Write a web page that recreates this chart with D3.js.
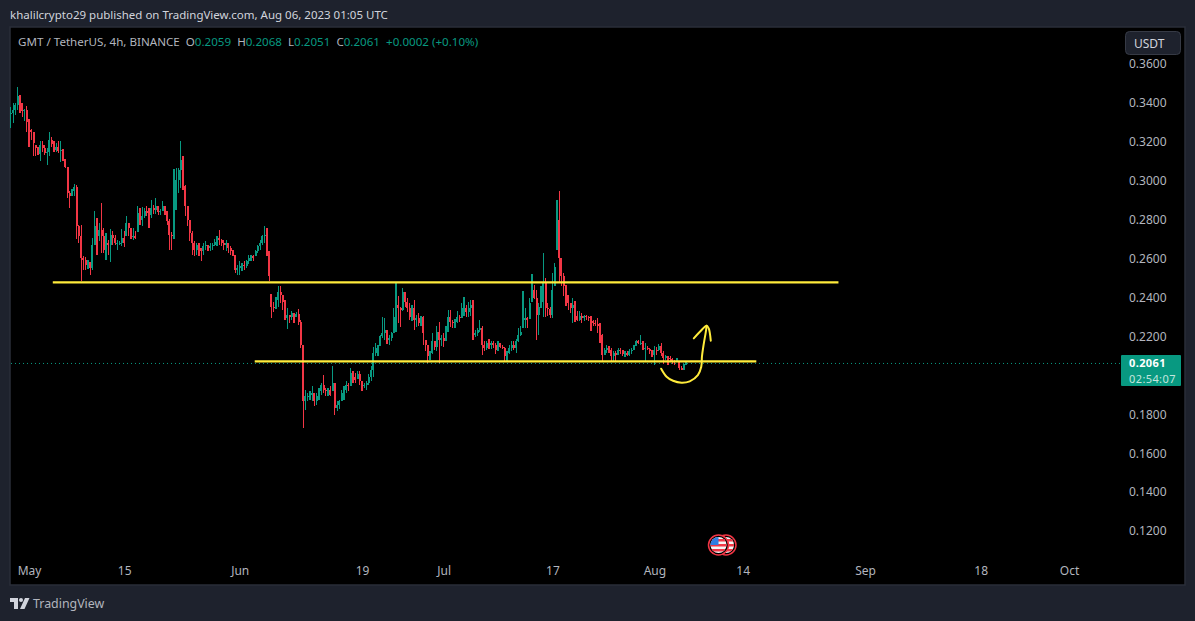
<!DOCTYPE html>
<html><head><meta charset="utf-8">
<style>html,body{margin:0;padding:0;background:#1e222d;overflow:hidden}text{font-family:"Noto Sans",sans-serif}</style>
<script src="https://cdn.jsdelivr.net/npm/d3@7/dist/d3.min.js"></script>
</head><body><svg id="c" width="1195" height="621"></svg>
<script>
const highs=[.3378,.3398,.3402,.3484,.3441,.3398,.3368,.3385,.3316,.3265,.3253,.3185,.3176,.3202,.3202,.3185,.3167,.3253,.3224,.3202,.3193,.3202,.3205,.3162,.3111,.3070,.2945,.2957,.2984,.2979,
.2774,.2774,.2612,.2608,.2595,.2581,.2706,.2843,.2808,.2783,.2885,.2757,.2731,.2697,.2754,.2740,.2723,.2697,.2689,.2754,.2740,.2820,.2783,.2757,.2757,.2740,.2872,.2860,.2865,.2860,
.2868,.2860,.2899,.2877,.2911,.2872,.2855,.2894,.2872,.2843,.2803,.2735,.3060,.3065,.3065,.3202,.3125,.2979,.2868,.2800,.2740,.2689,.2680,.2680,.2654,.2680,.2689,.2672,.2680,.2680,
.2701,.2714,.2749,.2701,.2697,.2697,.2680,.2663,.2646,.2620,.2569,.2586,.2577,.2586,.2595,.2620,.2620,.2620,.2646,.2672,.2697,.2723,.2766,.2757,.2637,
.2418,.2379,.2401,.2459,.2459,.2413,.2388,.2345,.2311,.2333,.2319,.2323,.2340,.2285,.2157,.1926,.1909,.1917,.1946,.1909,.1909,.1934,.1960,.2003,.1934,.1934,.1943,.2046,.1960,.1869,
.1875,.1926,.1943,.1969,.1960,.2037,.2020,.2011,.2020,.2020,.1969,.1960,.1969,.2008,.2046,.2148,.2165,.2157,.2208,.2302,.2294,.2234,.2208,.2225,.2345,.2473,.2408,.2350,.2451,.2430,
.2396,.2370,.2362,.2388,.2311,.2319,.2306,.2306,.2182,.2157,.2123,.2217,.2179,.2254,.2276,.2208,.2217,.2251,.2336,.2336,.2285,.2288,.2333,.2311,.2370,.2401,.2362,.2379,.2388,.2388,
.2234,.2242,.2285,.2251,.2174,.2174,.2186,.2179,.2174,.2165,.2179,.2165,.2157,.2148,.2123,.2157,.2179,.2174,.2186,.2242,.2251,.2434,.2348,.2302,.2396,.2519,.2465,.2439,.2370,.2459,
.2627,.2499,.2370,.2350,.2524,.2577,.2901,.2948,.2602,.2525,.2465,.2414,.2371,.2397,.2380,.2329,.2329,.2320,.2311,.2311,.2303,.2303,.2286,.2286,.2294,.2269,.2214,.2140,.2158,.2149,
.2140,.2123,.2123,.2140,.2140,.2128,.2123,.2123,.2135,.2140,.2158,.2183,.2183,.2209,.2175,.2166,.2149,.2140,.2132,.2149,.2144,.2163,.2166,.2123,.2106,.2098,.2098,.2089,.2081,.2089,
.2072,.2050,.2059,.2068];
const lows=[.3270,.3296,.3338,.3364,.3350,.3326,.3309,.3253,.3176,.3210,.3125,.3128,.3133,.3102,.3150,.3133,.3082,.3128,.3176,.3150,.3150,.3145,.3094,.3104,.3068,.2911,.2860,.2920,.2920,.2701,
.2680,.2483,.2540,.2543,.2547,.2518,.2543,.2672,.2620,.2689,.2629,.2629,.2591,.2620,.2581,.2672,.2672,.2646,.2668,.2663,.2658,.2714,.2714,.2701,.2697,.2701,.2735,.2774,.2766,.2808,
.2817,.2757,.2808,.2831,.2831,.2825,.2825,.2843,.2825,.2774,.2642,.2642,.2701,.2851,.2937,.2962,.2950,.2817,.2766,.2689,.2620,.2612,.2620,.2612,.2586,.2620,.2646,.2637,.2637,.2642,
.2663,.2663,.2672,.2663,.2646,.2637,.2629,.2620,.2612,.2526,.2518,.2518,.2535,.2543,.2552,.2574,.2586,.2586,.2612,.2629,.2646,.2672,.2680,.2612,.2483,
.2294,.2328,.2340,.2353,.2374,.2336,.2285,.2237,.2268,.2285,.2268,.2299,.2259,.2140,.1729,.1823,.1866,.1871,.1866,.1844,.1849,.1875,.1900,.1909,.1895,.1892,.1892,.1917,.1798,.1815,
.1827,.1866,.1875,.1909,.1922,.1943,.1960,.1960,.1981,.1952,.1922,.1934,.1926,.1952,.1969,.1994,.2100,.2097,.2152,.2191,.2182,.2162,.2157,.2179,.2217,.2225,.2268,.2247,.2333,.2350,
.2328,.2282,.2280,.2234,.2247,.2251,.2254,.2157,.2123,.2063,.2080,.2111,.2128,.2123,.2063,.2152,.2148,.2174,.2225,.2247,.2242,.2242,.2271,.2276,.2294,.2306,.2299,.2302,.2306,.2182,
.2196,.2203,.2225,.2105,.2123,.2131,.2135,.2135,.2140,.2109,.2123,.2140,.2135,.2066,.2076,.2111,.2123,.2131,.2114,.2169,.2203,.2242,.2242,.2242,.2288,.2379,.2391,.2182,.2208,.2345,
.2302,.2302,.2306,.2294,.2294,.2457,.2645,.2474,.2457,.2406,.2354,.2337,.2320,.2269,.2272,.2277,.2277,.2269,.2277,.2286,.2277,.2226,.2252,.2252,.2217,.2166,.2067,.2106,.2115,.2115,
.2072,.2072,.2072,.2103,.2111,.2098,.2094,.2098,.2101,.2111,.2128,.2149,.2163,.2154,.2132,.2072,.2128,.2111,.2094,.2055,.2106,.2123,.2098,.2060,.2077,.2055,.2069,.2060,.2055,.2067,
.2026,.2026,.2026,.2051];
const closes=[.3347,.3364,.3390,.3433,.3398,.3356,.3364,.3304,.3262,.3248,.3193,.3167,.3138,.3185,.3167,.3145,.3150,.3210,.3190,.3159,.3176,.3155,.3159,.3111,.3070,.2937,.2920,.2945,.2967,.2766,
.2714,.2603,.2595,.2569,.2586,.2552,.2672,.2766,.2714,.2749,.2714,.2646,.2680,.2672,.2723,.2706,.2680,.2680,.2680,.2706,.2680,.2783,.2757,.2714,.2714,.2706,.2834,.2800,.2817,.2843,
.2834,.2825,.2860,.2851,.2868,.2837,.2843,.2872,.2843,.2791,.2723,.2714,.2851,.3005,.3056,.3108,.2971,.2868,.2800,.2731,.2680,.2646,.2672,.2663,.2637,.2663,.2672,.2654,.2663,.2672,
.2683,.2706,.2697,.2680,.2672,.2680,.2654,.2637,.2620,.2543,.2552,.2560,.2569,.2564,.2586,.2603,.2612,.2603,.2637,.2663,.2680,.2714,.2723,.2637,.2509,
.2353,.2345,.2388,.2430,.2413,.2379,.2294,.2311,.2302,.2319,.2302,.2316,.2276,.2157,.1866,.1892,.1892,.1900,.1909,.1866,.1892,.1917,.1952,.1926,.1917,.1926,.1900,.1960,.1832,.1849,
.1866,.1909,.1926,.1952,.1943,.2011,.1994,.1977,.2008,.1969,.1952,.1952,.1960,.1994,.2029,.2114,.2140,.2148,.2200,.2217,.2234,.2182,.2191,.2217,.2302,.2362,.2345,.2336,.2430,.2379,
.2345,.2302,.2345,.2285,.2294,.2268,.2302,.2217,.2157,.2097,.2114,.2174,.2148,.2225,.2182,.2191,.2174,.2225,.2302,.2276,.2268,.2276,.2302,.2294,.2345,.2345,.2328,.2345,.2362,.2208,
.2217,.2234,.2242,.2157,.2140,.2165,.2157,.2165,.2157,.2131,.2165,.2148,.2143,.2097,.2114,.2140,.2157,.2140,.2174,.2208,.2225,.2285,.2294,.2285,.2370,.2439,.2396,.2311,.2353,.2379,
.2473,.2345,.2340,.2311,.2439,.2559,.2799,.2602,.2508,.2457,.2423,.2371,.2346,.2363,.2303,.2286,.2303,.2294,.2303,.2300,.2294,.2277,.2269,.2265,.2252,.2209,.2106,.2128,.2140,.2132,
.2098,.2115,.2106,.2132,.2128,.2111,.2115,.2106,.2123,.2132,.2152,.2175,.2166,.2166,.2140,.2140,.2135,.2123,.2106,.2132,.2128,.2149,.2115,.2089,.2098,.2089,.2084,.2072,.2067,.2081,
.2038,.2029,.2059,.2061];
const firstCandle="2023-04-28T08:00:00Z", candleHours=8;
const priceTicks=[.36,.34,.32,.30,.28,.26,.24,.22,.18,.16,.14,.12];
const timeTickDates=["2023-05-01","2023-05-15","2023-06-01","2023-06-19","2023-07-01","2023-07-17","2023-08-01","2023-08-14","2023-09-01","2023-09-18","2023-10-01"];
const timeTickLabels=["May","15","Jun","19","Jul","17","Aug","14","Sep","18","Oct"];
const upperLine={from:"2023-05-04T12:00:00Z",to:"2023-08-28T02:00:00Z",price:.2478};
const lowerLine={from:"2023-06-03T05:00:00Z",to:"2023-08-16T00:00:00Z",price:.2072};
const lastPrice=.2061;
const curveDays=[93.0,93.8,94.75,96.0,97.2,98.4,98.9,99.0,99.2,99.6,99.7];
const curvePrices=[.2034,.1993,.1972,.1962,.1969,.2001,.2044,.2096,.2147,.2230,.2255];
const headDays=[97.8,98.7,99.7,100.0,100.3];
const headPrices=[.2190,.2224,.2255,.2241,.2178];

const UP="#089981",DOWN="#f23645",TXT="#b2b5be",BG="#1e222d",YEL="#ffeb3b";
const svg=d3.select("#c");
svg.append("rect").attr("width",1195).attr("height",621).attr("fill",BG);
svg.append("rect").attr("x",10).attr("y",27).attr("width",1175).attr("height",558).attr("fill","#000").attr("stroke","#2a2e39").attr("stroke-width",1.5);

const x=d3.scaleUtc().domain([new Date("2023-05-01T00:00:00Z"),new Date("2023-10-01T00:00:00Z")]).range([29,1069]);
const y=d3.scaleLinear().domain([.12,.36]).range([531,64]);
const t0=+new Date(firstCandle);
const candles=closes.map((c,i)=>{
  const h=highs[i],l=lows[i];
  const o=i?Math.max(l,Math.min(h,closes[i-1])):c;
  return {t:new Date(t0+i*candleHours*36e5),o,h,l,c,up:c>=(i?closes[i-1]:c)};
});
const plot=svg.append("g");
plot.append("line").attr("x1",11).attr("x2",1121).attr("y1",y(lastPrice)).attr("y2",y(lastPrice)).attr("stroke",UP).attr("stroke-dasharray","1 3").attr("stroke-width",1);
const g=plot.append("g").attr("shape-rendering","crispEdges");
g.selectAll("line.w").data(candles).join("line").attr("class","w")
 .attr("x1",d=>x(d.t)).attr("x2",d=>x(d.t)).attr("y1",d=>y(d.h)).attr("y2",d=>y(d.l))
 .attr("stroke",d=>d.up?UP:DOWN).attr("stroke-width",1.2);
g.selectAll("rect.b").data(candles).join("rect").attr("class","b")
 .attr("x",d=>x(d.t)-1).attr("width",2)
 .attr("y",d=>y(Math.max(d.o,d.c))).attr("height",d=>Math.max(1,y(Math.min(d.o,d.c))-y(Math.max(d.o,d.c))))
 .attr("fill",d=>d.up?UP:DOWN);

[upperLine,lowerLine].forEach(L=>{
 plot.append("line").attr("x1",x(new Date(L.from))).attr("x2",x(new Date(L.to))).attr("y1",y(L.price)).attr("y2",y(L.price)).attr("stroke",YEL).attr("stroke-width",2.2);
});
const dayX=d=>x(new Date(+new Date("2023-05-01T00:00:00Z")+d*864e5));
const ln=d3.line().x(d=>dayX(d[0])).y(d=>y(d[1]));
plot.append("path").attr("d",ln.curve(d3.curveCatmullRom)(d3.zip(curveDays,curvePrices))).attr("fill","none").attr("stroke",YEL).attr("stroke-width",2).attr("stroke-linecap","round");
plot.append("path").attr("d",ln.curve(d3.curveCatmullRom)(d3.zip(headDays,headPrices))).attr("fill","none").attr("stroke",YEL).attr("stroke-width",2).attr("stroke-linecap","round");

// axes
const ay=d3.axisRight(y).tickValues(priceTicks).tickSize(0).tickPadding(0).tickFormat(d3.format(".4f"));
const gy=svg.append("g").attr("transform","translate(1129,0)").call(ay);
gy.select(".domain").remove();
gy.selectAll("text").attr("fill",TXT).attr("font-size",12).style("font-family",'"Noto Sans",sans-serif');
const ax=d3.axisBottom(x).tickValues(timeTickDates.map(d=>new Date(d+"T00:00:00Z"))).tickSize(0).tickPadding(0).tickFormat((d,i)=>timeTickLabels[i]);
const gx=svg.append("g").attr("transform","translate(0,566)").call(ax);
gx.select(".domain").remove();
gx.selectAll("text").attr("fill",TXT).attr("font-size",12).style("font-family",'"Noto Sans",sans-serif');

// header and legend
svg.append("text").attr("x",10).attr("y",19).attr("fill","#d1d4dc").attr("font-size",11.5).text("khalilcrypto29 published on TradingView.com, Aug 06, 2023 01:05 UTC");
const leg=svg.append("text").attr("x",18).attr("y",46).attr("font-size",11.6).attr("fill",TXT);
[["GMT / TetherUS, 4h, BINANCE  O",TXT],["0.2059",UP],["  H",TXT],["0.2068",UP],["  L",TXT],["0.2051",UP],["  C",TXT],["0.2061",UP],["  +0.0002 (+0.10%)",UP]]
 .forEach(([s,c])=>leg.append("tspan").attr("fill",c).attr("xml:space","preserve").style("white-space","pre").text(s));

// USDT button
svg.append("rect").attr("x",1125.5).attr("y",31.5).attr("width",55).attr("height",23).attr("rx",4).attr("fill",BG).attr("stroke","#363a45");
svg.append("text").attr("x",1134).attr("y",48).attr("fill","#d1d4dc").attr("font-size",12).text("USDT");

// last price tag
svg.append("rect").attr("x",1121).attr("y",355).attr("width",60).attr("height",31).attr("rx",1).attr("fill",UP);
svg.append("text").attr("x",1129).attr("y",367).attr("fill","#fff").attr("font-size",11).attr("font-weight",700).attr("letter-spacing",.4).text("0.2061");
svg.append("text").attr("x",1129).attr("y",382.5).attr("fill","#c4e6df").attr("font-size",11).attr("letter-spacing",.4).text("02:54:07");

// flag icon
const flagY=545;
const defs=svg.append("defs");
defs.append("clipPath").attr("id","fc").append("circle").attr("cx",718.5).attr("cy",flagY).attr("r",8);
defs.append("clipPath").attr("id","fd").append("circle").attr("cx",726).attr("cy",flagY).attr("r",8);
function badge(cx,clip,canton){
 svg.append("circle").attr("cx",cx).attr("cy",flagY).attr("r",10).attr("fill","#000").attr("stroke",DOWN).attr("stroke-width",1.5);
 const f=svg.append("g").attr("clip-path",`url(#${clip})`);
 f.append("rect").attr("x",cx-9).attr("y",flagY-9).attr("width",18).attr("height",18).attr("fill","#f5f5f5");
 [-6,-1,4].forEach(o=>f.append("rect").attr("x",cx-9).attr("y",flagY+o).attr("width",18).attr("height",2.5).attr("fill",DOWN));
 if(canton)f.append("rect").attr("x",cx-9).attr("y",flagY-9).attr("width",9).attr("height",9).attr("fill","#2f7de1");
}
badge(726,"fd",false);badge(718.5,"fc",true);

// TradingView logo
svg.append("path").attr("d","M10 598H18V609H14V602H10Z M25 598H29.5L24.5 609H20Z").attr("fill","#d1d4dc");
svg.append("circle").attr("cx",21).attr("cy",600).attr("r",2).attr("fill","#d1d4dc");
svg.append("text").attr("x",33).attr("y",608).attr("fill",TXT).attr("font-size",12.4).text("TradingView");
</script></body></html>
